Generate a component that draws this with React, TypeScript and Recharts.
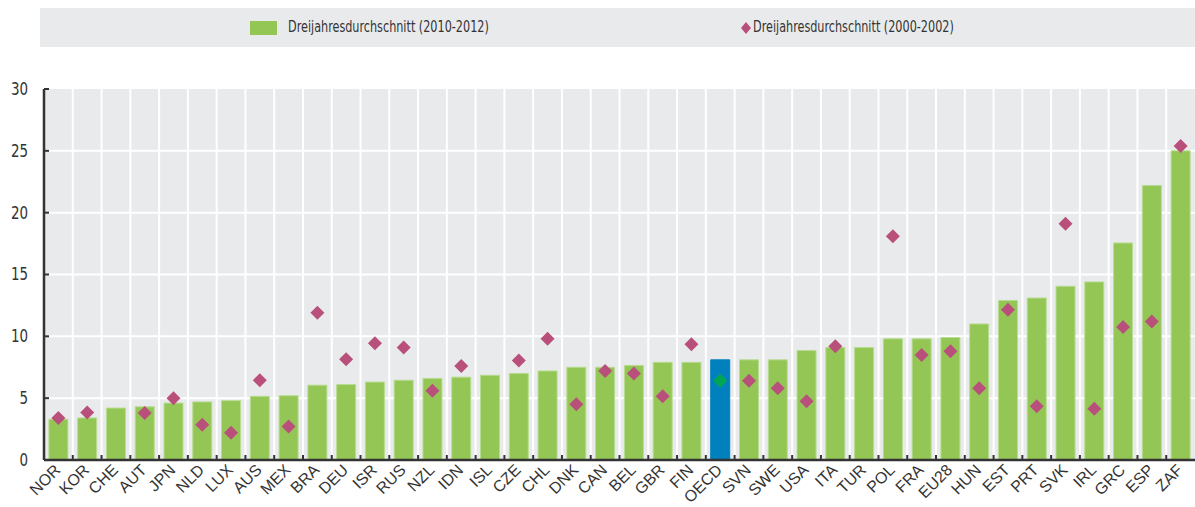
import { ComposedChart, Bar, Scatter, XAxis, YAxis, CartesianGrid, Cell } from 'recharts';

const countries = [
  'NOR', 'KOR', 'CHE', 'AUT', 'JPN', 'NLD', 'LUX', 'AUS', 'MEX', 'BRA', 'DEU', 'ISR', 'RUS',
  'NZL', 'IDN', 'ISL', 'CZE', 'CHL', 'DNK', 'CAN', 'BEL', 'GBR', 'FIN', 'OECD', 'SVN', 'SWE',
  'USA', 'ITA', 'TUR', 'POL', 'FRA', 'EU28', 'HUN', 'EST', 'PRT', 'SVK', 'IRL', 'GRC', 'ESP', 'ZAF',
];

// Dreijahresdurchschnitt 2010-2012 (bars)
const recent = [
  3.3, 3.4, 4.2, 4.3, 4.6, 4.7, 4.8, 5.15, 5.2, 6.05, 6.1, 6.3, 6.45,
  6.6, 6.7, 6.85, 7.0, 7.2, 7.5, 7.5, 7.65, 7.9, 7.9, 8.1, 8.1, 8.1,
  8.85, 9.1, 9.1, 9.8, 9.8, 9.9, 11.0, 12.9, 13.1, 14.05, 14.4, 17.55, 22.2, 25.0,
];

// Dreijahresdurchschnitt 2000-2002 (diamonds), null = no value
const earlier: (number | null)[] = [
  3.4, 3.85, null, 3.8, 5.0, 2.85, 2.2, 6.45, 2.7, 11.9, 8.15, 9.45, 9.1,
  5.6, 7.6, null, 8.05, 9.8, 4.5, 7.2, 7.0, 5.15, 9.35, 6.4, 6.4, 5.8,
  4.75, 9.2, null, 18.1, 8.5, 8.8, 5.8, 12.15, 4.35, 19.1, 4.15, 10.75, 11.2, 25.4,
];

const yTicks = [0, 5, 10, 15, 20, 25, 30];

const data = countries.map((c, i) => ({ country: c, recent: recent[i], earlier: earlier[i] }));

const GREEN = '#93c655';
const PINK = '#b9507b';
const BLUE = '#0080bc';
const OECD_DOT = '#00a651';
const GRAY = '#e9eaec';
const AXIS = '#333333';
const NARROW = "'Liberation Sans Narrow', 'DejaVu Sans Condensed', sans-serif";

const W = 1195;
const H = 507;
const LEFT = 44;
const TOP = 89;
const BOTTOM = 47;
const band = (W - LEFT) / countries.length;

function YTick(props: any) {
  const { x, y, payload } = props;
  return (
    <g>
      <line x1={x} x2={x + 5} y1={y} y2={y} stroke={AXIS} strokeWidth={2} />
      <text
        x={x - 16}
        y={y}
        dy={6}
        textAnchor="end"
        fontSize={17}
        fill={AXIS}
        fontFamily={NARROW}
        transform={`translate(${(x - 16) * 0.12} 0) scale(0.88 1)`}
      >
        {payload.value}
      </text>
    </g>
  );
}

function XTick(props: any) {
  const { x, y, payload, index } = props;
  return (
    <g>
      {index > 0 && (
        <line x1={x - band / 2} x2={x - band / 2} y1={y} y2={y - 5} stroke={AXIS} strokeWidth={2} />
      )}
      <text
        x={x + 3}
        y={y + 11}
        textAnchor="end"
        fontSize={16}
        fill={AXIS}
        fontFamily="'Liberation Sans', Arial, sans-serif"
        transform={`rotate(-45 ${x + 3} ${y + 11})`}
      >
        {payload.value}
      </text>
    </g>
  );
}

function Diamond(props: any) {
  const { cx, cy, payload } = props;
  if (payload == null || payload.earlier == null || cy == null) return <g />;
  const r = 7;
  const fill = payload.country === 'OECD' ? OECD_DOT : PINK;
  return <polygon points={`${cx},${cy - r} ${cx + r},${cy} ${cx},${cy + r} ${cx - r},${cy}`} fill={fill} />;
}

const legendText: React.CSSProperties = {
  position: 'absolute',
  top: 9,
  whiteSpace: 'nowrap',
  transform: 'scaleX(0.78)',
  transformOrigin: 'left center',
};

function LegendBox() {
  return (
    <div
      style={{
        position: 'absolute',
        left: 40,
        top: 8,
        width: W - 40,
        height: 39,
        background: GRAY,
        fontFamily: NARROW,
        fontSize: 16,
        color: AXIS,
      }}
    >
      <div style={{ position: 'absolute', left: 210, top: 13, width: 27, height: 14, background: GREEN }} />
      <div style={{ ...legendText, left: 248 }}>Dreijahresdurchschnitt (2010-2012)</div>
      <svg style={{ position: 'absolute', left: 700, top: 13 }} width={12} height={14}>
        <polygon points="6,1 11,7 6,13 1,7" fill={PINK} />
      </svg>
      <div style={{ ...legendText, left: 713 }}>Dreijahresdurchschnitt (2000-2002)</div>
    </div>
  );
}

export default function App() {
  return (
    <div style={{ position: 'absolute', left: 0, top: 0, width: W, height: H, background: '#fff' }}>
      <LegendBox />
      <div style={{ position: 'absolute', left: 0, top: 0 }}>
        <ComposedChart
          width={W}
          height={H}
          data={data}
          margin={{ top: TOP, right: 0, bottom: 0, left: 0 }}
          barCategoryGap="17%"
        >
          <CartesianGrid
            fill={GRAY}
            fillOpacity={1}
            stroke="#ffffff"
            strokeWidth={2}
            horizontalValues={[5, 10, 15, 20, 25]}
            verticalCoordinatesGenerator={({ offset }: any) =>
              countries.slice(1).map((_, i) => offset.left + ((i + 1) * offset.width) / countries.length)
            }
          />
          <XAxis
            dataKey="country"
            interval={0}
            height={BOTTOM}
            tickSize={0}
            tickMargin={0}
            tick={<XTick />}
            axisLine={{ stroke: AXIS, strokeWidth: 2.5 }}
          />
          <YAxis
            width={LEFT}
            domain={[0, 30]}
            ticks={yTicks}
            tickSize={0}
            tickMargin={0}
            tick={<YTick />}
            axisLine={{ stroke: AXIS, strokeWidth: 2.5 }}
          />
          <Bar dataKey="recent" isAnimationActive={false} stroke="#b8dc90" strokeWidth={1}>
            {data.map((d) => (
              <Cell key={d.country} fill={d.country === 'OECD' ? BLUE : GREEN} stroke={d.country === 'OECD' ? BLUE : '#b8dc90'} />
            ))}
          </Bar>
          <Scatter dataKey="earlier" isAnimationActive={false} shape={<Diamond />} />
        </ComposedChart>
      </div>
    </div>
  );
}
